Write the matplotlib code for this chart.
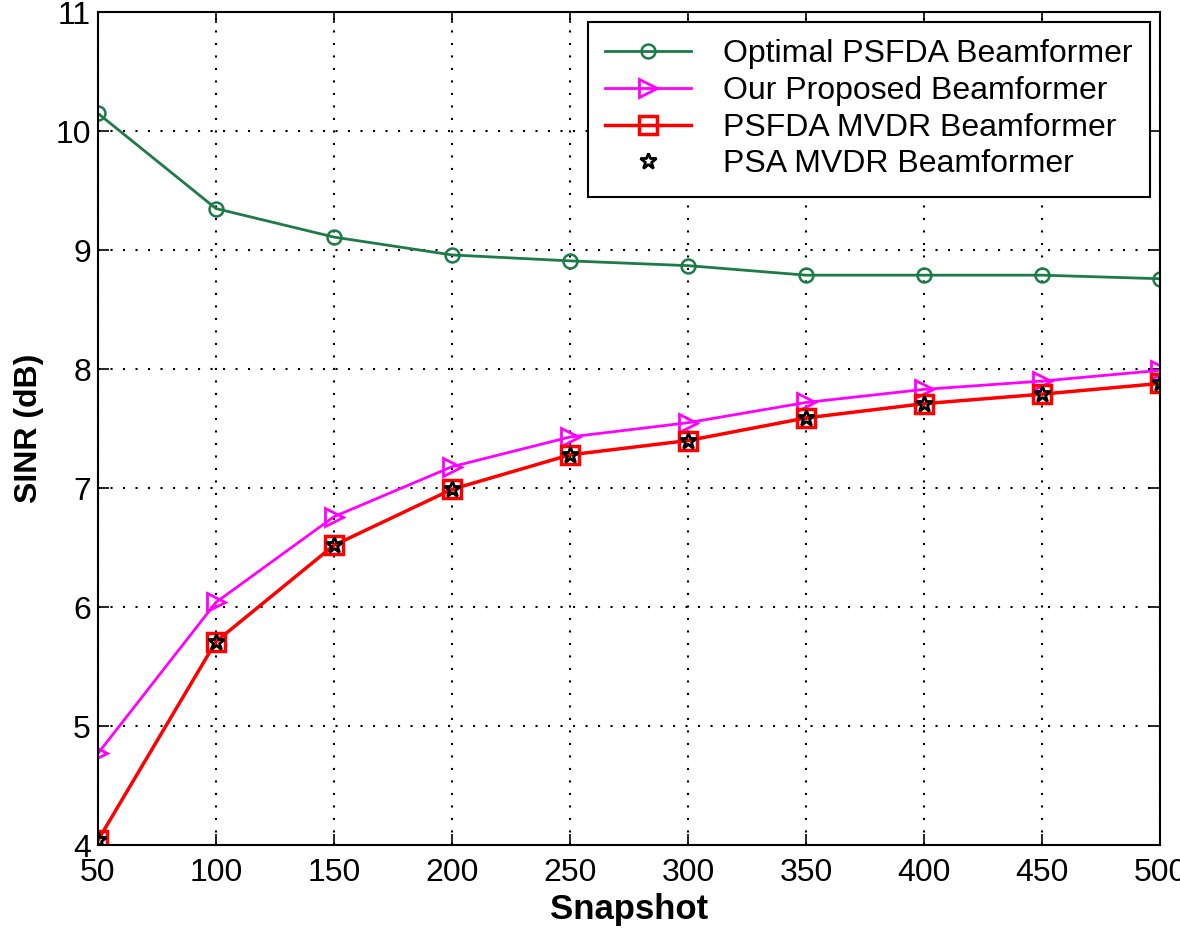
import matplotlib
matplotlib.use("Agg")
import matplotlib.pyplot as plt

plt.rcParams["font.family"] = ["Liberation Sans", "DejaVu Sans"]

snapshots = [50, 100, 150, 200, 250, 300, 350, 400, 450, 500]
optimal = [10.15, 9.35, 9.11, 8.96, 8.91, 8.87, 8.79, 8.79, 8.79, 8.76]
proposed = [4.77, 6.04, 6.76, 7.18, 7.43, 7.55, 7.72, 7.83, 7.90, 7.99]
psfda_mvdr = [4.04, 5.71, 6.52, 6.99, 7.28, 7.40, 7.59, 7.71, 7.79, 7.88]
psa_mvdr = [4.04, 5.71, 6.52, 6.99, 7.28, 7.40, 7.59, 7.71, 7.79, 7.88]

fig = plt.figure(figsize=(11.8, 9.39), dpi=100)
ax = fig.add_axes([0.083, 0.1, 0.9, 0.887])

ax.plot(snapshots, optimal, color="#1e7b48", lw=2, marker="o", ms=10,
        mfc="none", mew=1.8, label="Optimal PSFDA Beamformer")
ax.plot(snapshots, proposed, color="#ff00ff", lw=2, marker=">", ms=13,
        mfc="none", mew=2, label="Our Proposed Beamformer")
ax.plot(snapshots, psfda_mvdr, color="#ff0000", lw=2.5, marker="s", ms=13,
        mfc="none", mew=2.5, label="PSFDA MVDR Beamformer")
ax.plot(snapshots, psa_mvdr, color="black", lw=0, marker="*", ms=12,
        mfc="none", mew=2, label="PSA MVDR Beamformer")

ax.set_xlim(50, 500)
ax.set_ylim(4, 11)
ax.set_xticks(snapshots)
ax.set_yticks(range(4, 12))
ax.grid(True, color="black", linestyle=(0, (1, 5)), lw=1.5)
ax.tick_params(direction="in", top=True, right=True, labelsize=23, length=8, width=1.2)
ax.tick_params(axis="x", pad=9)
ax.tick_params(axis="y", pad=5)
for s in ax.spines.values():
    s.set_linewidth(1.5)

ax.set_xlabel("Snapshot", fontsize=25, fontweight="bold", labelpad=4)
ax.set_ylabel("SINR (dB)", fontsize=23, fontweight="bold", labelpad=8)

leg = ax.legend(loc="upper right", fontsize=23, fancybox=False, framealpha=1,
                edgecolor="black", borderaxespad=0.3, handlelength=2.7,
                handletextpad=1.0, labelspacing=0.21, borderpad=0.55)
leg.get_frame().set_linewidth(1.5)

fig.savefig("out.png", dpi=100)
